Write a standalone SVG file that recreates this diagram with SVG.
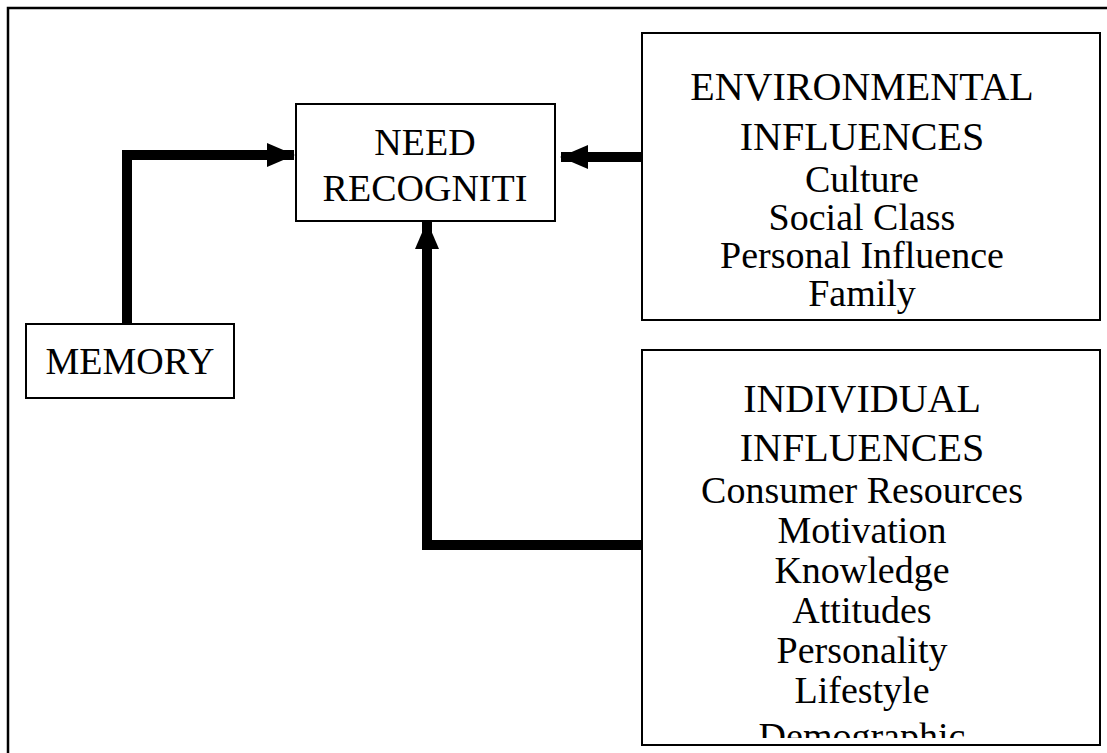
<svg xmlns="http://www.w3.org/2000/svg" width="1107" height="753" viewBox="0 0 1107 753">
<style>
.box{fill:#fff;stroke:#000;stroke-width:2}
.t{font-family:"Liberation Serif","Times New Roman",serif;font-size:38px;fill:#000;text-anchor:middle}
.h{font-size:40px}
.c{fill:none;stroke:#000;stroke-width:10}
</style>
<defs>
<marker id="ah" markerUnits="userSpaceOnUse" markerWidth="28" markerHeight="24" refX="27" refY="12" orient="auto">
<path d="M0,0 L28,12 L0,24 Z" fill="#000"/>
</marker>
<clipPath id="indclip"><rect x="643" y="351" width="456" height="387"/></clipPath>
</defs>
<rect width="1107" height="753" fill="#fff"/>
<g id="frame"><path d="M8,753 L8,8 L1107,8" fill="none" stroke="#000" stroke-width="2.5"/></g>
<g id="connectors">
<path class="c" d="M127,324 L127,155 L294,155" marker-end="url(#ah)"/>
<path class="c" d="M642,157 L561,157" marker-end="url(#ah)"/>
<path class="c" d="M642,545 L427,545 L427,222" marker-end="url(#ah)"/>
</g>
<g id="need">
<rect class="box" x="296" y="104" width="259" height="117"/>
<text class="t" x="425" y="155">NEED</text>
<text class="t" x="425" y="201">RECOGNITI</text>
</g>
<g id="memory">
<rect class="box" x="26" y="324" width="208" height="74"/>
<text class="t" x="130" y="374">MEMORY</text>
</g>
<g id="env">
<rect class="box" x="642" y="33" width="458" height="287"/>
<text class="t h" x="862" y="100">ENVIRONMENTAL</text>
<text class="t h" x="862" y="150">INFLUENCES</text>
<text class="t" x="862" y="192">Culture</text>
<text class="t" x="862" y="230">Social Class</text>
<text class="t" x="862" y="268">Personal Influence</text>
<text class="t" x="862" y="306">Family</text>
</g>
<g id="individual">
<rect class="box" x="642" y="350" width="458" height="395"/>
<g clip-path="url(#indclip)">
<text class="t h" x="862" y="412">INDIVIDUAL</text>
<text class="t h" x="862" y="461">INFLUENCES</text>
<text class="t" x="862" y="503">Consumer Resources</text>
<text class="t" x="862" y="543">Motivation</text>
<text class="t" x="862" y="583">Knowledge</text>
<text class="t" x="862" y="623">Attitudes</text>
<text class="t" x="862" y="663">Personality</text>
<text class="t" x="862" y="703">Lifestyle</text>
<text class="t" x="862" y="749">Demographic</text>
</g>
</g>
</svg>
